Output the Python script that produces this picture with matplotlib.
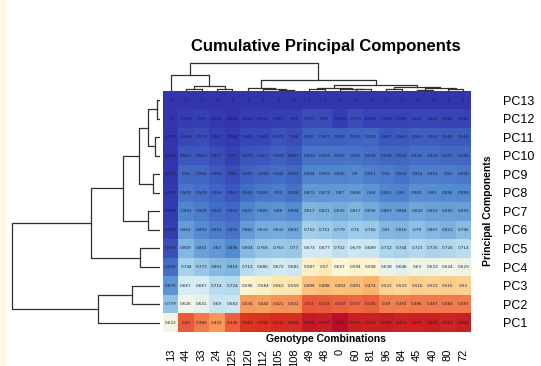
import numpy as np
import matplotlib.pyplot as plt
from matplotlib.colors import LinearSegmentedColormap
from matplotlib.patches import Rectangle

# kolommen in de volgorde van de dendrogram
genotypes = ['13', '44', '33', '24', '125', '120', '112', '105', '108', '49',
             '48', '0', '60', '81', '96', '84', '45', '40', '80', '72']
pc_labels = ['PC13', 'PC12', 'PC11', 'PC10', 'PC9', 'PC8', 'PC7',
             'PC6', 'PC5', 'PC4', 'PC3', 'PC2', 'PC1']

# cumulatieve verklaarde variantie per PC
pc13 = [1, 1, 1, 1, 1, 1, 1, 1, 1, 1, 1, 1, 1, 1, 1, 1, 1, 1, 1, 1]
pc12 = [1, 0.991, 0.99, 0.996, 0.998, 0.993, 0.992, 0.987, 0.99, 0.979,
        0.98, 0.991, 0.979, 0.985, 0.984, 0.985, 0.982, 0.982, 0.984, 0.985]
pc11 = [0.999, 0.981, 0.979, 0.987, 0.995, 0.982, 0.982, 0.973, 0.98, 0.957,
        0.957, 0.959, 0.955, 0.952, 0.967, 0.965, 0.961, 0.962, 0.966, 0.964]
pc10 = [0.998, 0.967, 0.967, 0.977, 0.99, 0.971, 0.967, 0.959, 0.967, 0.932,
        0.933, 0.933, 0.931, 0.939, 0.949, 0.952, 0.938, 0.939, 0.947, 0.949]
pc9 = [0.997, 0.95, 0.952, 0.966, 0.98, 0.957, 0.949, 0.942, 0.952, 0.904,
       0.903, 0.906, 0.9, 0.911, 0.92, 0.932, 0.914, 0.915, 0.92, 0.926]
pc8 = [0.996, 0.929, 0.939, 0.954, 0.967, 0.943, 0.926, 0.92, 0.936, 0.872,
       0.873, 0.87, 0.866, 0.88, 0.901, 0.91, 0.885, 0.89, 0.896, 0.899]
pc7 = [0.994, 0.901, 0.918, 0.941, 0.952, 0.907, 0.885, 0.88, 0.894, 0.817,
       0.821, 0.832, 0.817, 0.836, 0.863, 0.864, 0.842, 0.853, 0.856, 0.855]
pc6 = [0.991, 0.862, 0.892, 0.915, 0.931, 0.866, 0.833, 0.832, 0.841, 0.752,
       0.761, 0.779, 0.76, 0.766, 0.81, 0.816, 0.79, 0.807, 0.822, 0.796]
pc5 = [0.974, 0.809, 0.851, 0.87, 0.896, 0.804, 0.768, 0.763, 0.77, 0.673,
       0.677, 0.702, 0.679, 0.689, 0.732, 0.744, 0.721, 0.735, 0.726, 0.714]
pc4 = [0.943, 0.744, 0.773, 0.801, 0.814, 0.713, 0.686, 0.672, 0.681, 0.587,
       0.57, 0.607, 0.594, 0.598, 0.638, 0.646, 0.63, 0.633, 0.624, 0.629]
pc3 = [0.876, 0.667, 0.667, 0.714, 0.724, 0.596, 0.584, 0.562, 0.559, 0.498,
       0.488, 0.492, 0.491, 0.474, 0.522, 0.533, 0.516, 0.522, 0.516, 0.52]
pc2 = [0.779, 0.626, 0.641, 0.69, 0.682, 0.434, 0.444, 0.421, 0.422, 0.33,
       0.333, 0.347, 0.357, 0.345, 0.39, 0.391, 0.386, 0.387, 0.384, 0.387]
pc1 = [0.622, 0.33, 0.386, 0.432, 0.345, 0.263, 0.258, 0.243, 0.244, 0.185,
       0.197, 0.15, 0.205, 0.204, 0.196, 0.213, 0.207, 0.205, 0.219, 0.206]

# dendrogrammen: (links, rechts, hoogte), nodes >= n zijn eerdere merges
col_merges = [(1, 2, 2), (3, 4, 1.5), (20, 21, 4.5), (0, 22, 16),
              (7, 8, 1), (6, 24, 1.8), (5, 25, 2.5),
              (9, 10, 1.5), (12, 13, 1.5), (11, 28, 2.2), (27, 29, 3.2),
              (14, 15, 1.5), (16, 17, 1.2), (18, 19, 1.5), (32, 33, 2.5),
              (31, 34, 3.5), (30, 35, 6), (26, 36, 11), (23, 37, 28)]
row_merges = [(0, 1, 3), (2, 3, 5), (13, 14, 12), (4, 5, 7), (15, 16, 21),
              (6, 7, 12), (17, 18, 37), (8, 9, 20), (19, 20, 69),
              (10, 11, 28), (22, 12, 62), (21, 23, 148)]

data = np.array([pc13, pc12, pc11, pc10, pc9, pc8, pc7,
                 pc6, pc5, pc4, pc3, pc2, pc1])

cmap = LinearSegmentedColormap.from_list('pcs', [
    (0.0, '#b8102a'), (0.118, '#d7301f'), (0.235, '#ee6340'),
    (0.353, '#f9a561'), (0.412, '#fcc47f'), (0.471, '#fee3a5'),
    (0.541, '#fbf8dc'), (0.6, '#d9eef5'), (0.694, '#a9d3ea'),
    (0.788, '#7db3de'), (0.882, '#5288cf'), (0.953, '#3f62c2'),
    (1.0, '#3235ae')])

W, H = 541, 366


def box(x0, y0, x1, y1):
    return [x0 / W, 1 - y1 / H, (x1 - x0) / W, (y1 - y0) / H]


def draw_dendro(ax, merges, n, vertical):
    pos = {i: i + 0.5 for i in range(n)}
    hgt = {i: 0 for i in range(n)}
    for k, (a, b, h) in enumerate(merges):
        xs = [pos[a], pos[a], pos[b], pos[b]]
        ys = [hgt[a], h, h, hgt[b]]
        if vertical:
            ax.plot(xs, ys, color='#303030', lw=0.9)
        else:
            ax.plot(ys, xs, color='#303030', lw=0.9)
        pos[n + k] = (pos[a] + pos[b]) / 2
        hgt[n + k] = h


fig = plt.figure(figsize=(W / 100, H / 100), dpi=100)
fig.patches.append(Rectangle((0, 0), 6 / W, 1, transform=fig.transFigure,
                             color='#fff8e4', zorder=0))

# heatmap
ax = fig.add_axes(box(163, 90.75, 471, 332))
ax.pcolormesh(np.arange(len(genotypes) + 1), np.arange(len(pc_labels) + 1),
              data, cmap=cmap, vmin=0.15, vmax=1)
ax.set_xlim(0, len(genotypes))
ax.set_ylim(len(pc_labels), 0)
for i in range(len(pc_labels)):
    for j in range(len(genotypes)):
        ax.text(j + 0.5, i + 0.5, '{:g}'.format(data[i, j]), ha='center',
                va='center', fontsize=3, color='#1c1c3c')
ax.set_xticks(np.arange(len(genotypes)) + 0.5)
ax.set_xticklabels(genotypes, rotation=90, va='top', fontsize=8,
                   family='Liberation Sans')
ax.set_yticks(np.arange(len(pc_labels)) + 0.5)
ax.set_yticklabels(pc_labels, fontsize=9, family='Liberation Sans')
ax.yaxis.tick_right()
ax.tick_params(axis='x', length=0, pad=12)
ax.tick_params(axis='y', length=0, pad=23)
for s in ax.spines.values():
    s.set_visible(False)

# kolom dendrogram
ax_c = fig.add_axes(box(163, 58, 471, 90.75))
draw_dendro(ax_c, col_merges, len(genotypes), True)
ax_c.set_xlim(0, len(genotypes))
ax_c.set_ylim(0, 32.75)
ax_c.axis('off')

# rij dendrogram
ax_r = fig.add_axes(box(5, 90.75, 160, 332))
draw_dendro(ax_r, row_merges, len(pc_labels), False)
ax_r.set_ylim(len(pc_labels), 0)
ax_r.set_xlim(155, 0)
ax_r.axis('off')

# titels en labels
fig.text(326 / W, 1 - 46 / H, 'Cumulative Principal Components',
         ha='center', va='center', fontsize=12, fontweight='bold',
         family='Liberation Sans')
fig.text(326 / W, 1 - 339 / H, 'Genotype Combinations', ha='center',
         va='center', fontsize=7.5, fontweight='bold', family='Liberation Sans')
fig.text(488 / W, 1 - 211 / H, 'Principal Components', ha='center',
         va='center', rotation=90, fontsize=7.5, fontweight='bold',
         family='Liberation Sans')

fig.savefig('out.png', dpi=100)
